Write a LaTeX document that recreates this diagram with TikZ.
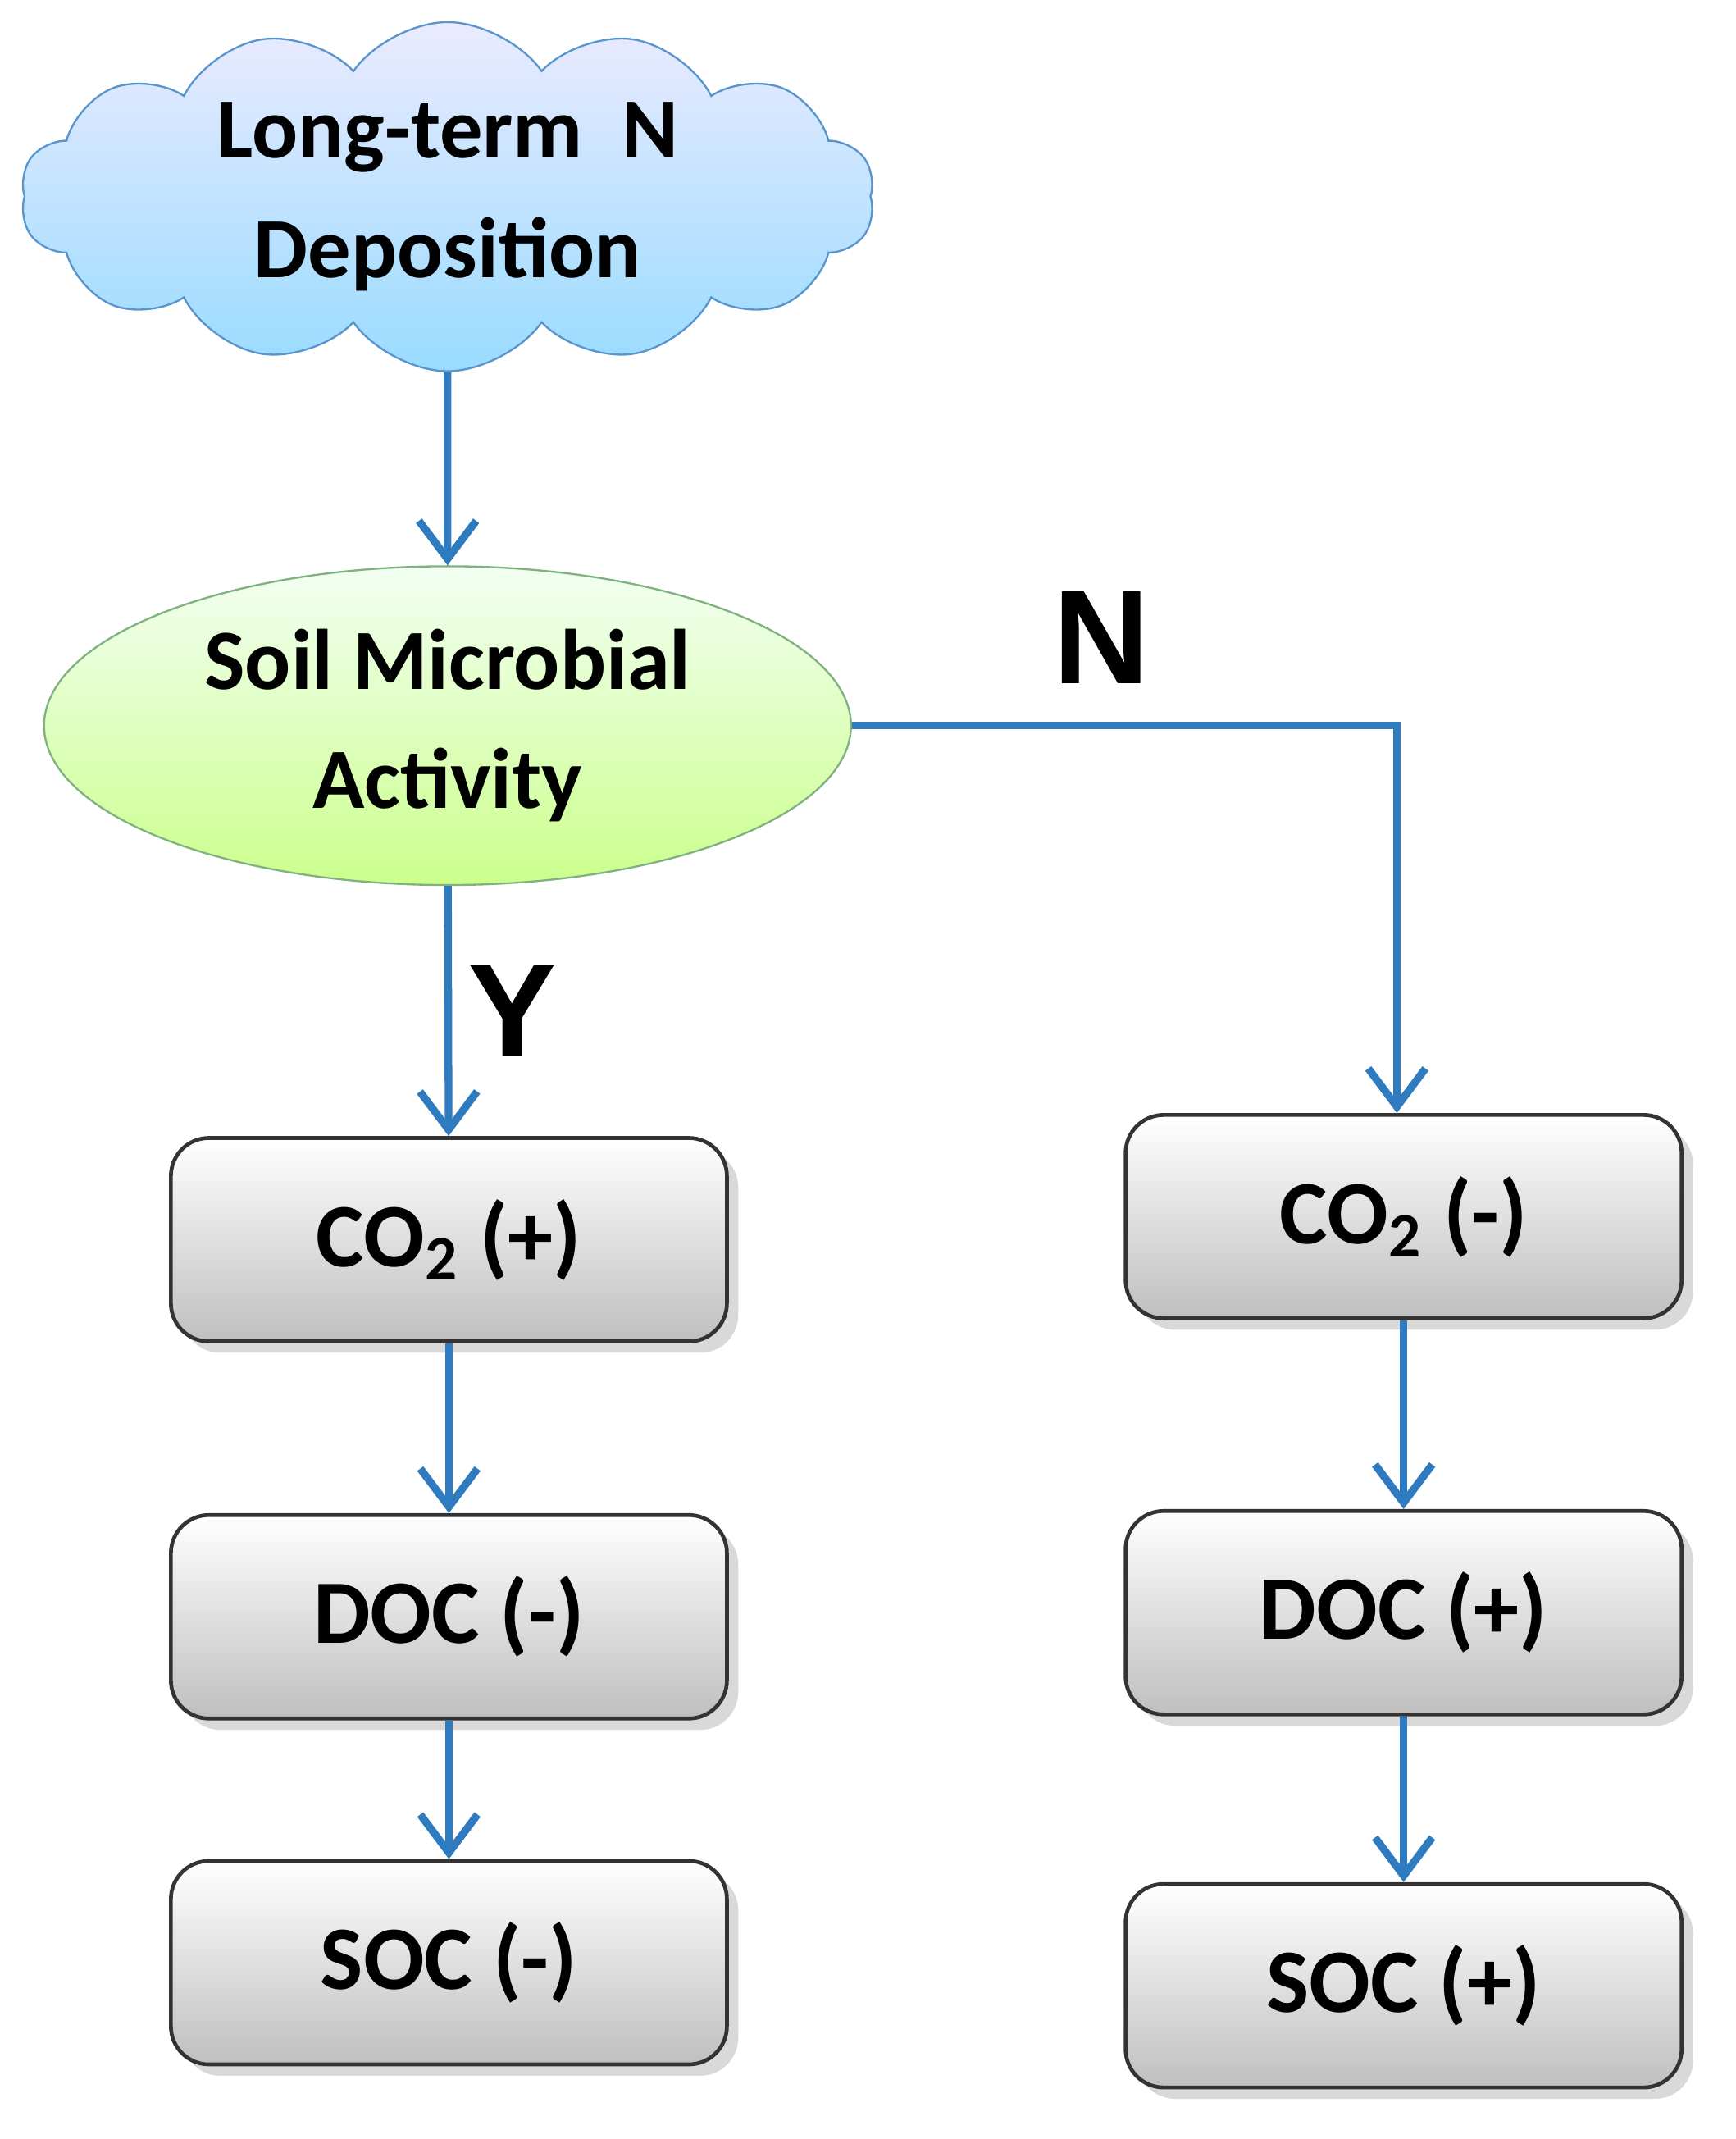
\documentclass[tikz,border=0pt]{standalone}
\usepackage{fontspec}
\setmainfont{Carlito}
\newfontfamily\labelfont{Liberation Sans}
\usetikzlibrary{shapes.geometric}
\usetikzlibrary{shapes.symbols}
\usetikzlibrary{positioning}
\usetikzlibrary{arrows.meta}
\usetikzlibrary{shadows}
\definecolor{flowblue}{HTML}{2E7BC0}
\tikzset{
  stepbox/.style={draw=black!80, thick, rectangle, rounded corners=8pt, minimum width=4.1cm, minimum height=1.5cm,
    top color=white, bottom color=black!25, drop shadow={opacity=0.3}, font=\fontsize{19}{23}\selectfont\bfseries},
  flow/.style={-{Straight Barb[length=8pt,width=12pt]}, draw=flowblue, line width=1.6pt},
  branch/.style={font=\labelfont\fontsize{28}{32}\selectfont\bfseries}
}
\begin{document}
\begin{tikzpicture}
            \useasboundingbox (0,0) rectangle (12.8,15.77);
            % source and activity
            \node[draw=flowblue!80, cloud, cloud puffs=14, cloud puff arc=110, aspect=2.9, minimum width=6.3cm, minimum height=2.05cm,
                  top color=blue!8, bottom color=blue!35!cyan!40, align=center, inner sep=0pt,
                  font=\fontsize{18}{25}\selectfont\bfseries] (dep) at (3.3,14.32) {Long-term\ \ N\\Deposition};
            \node[draw=green!40!black!50, ellipse, minimum width=5.95cm, minimum height=2.35cm, top color=green!5, bottom color=green!45!yellow!45,
                  align=center, inner sep=0pt, font=\fontsize{18}{25}\selectfont\bfseries] (act) at (3.3,10.42) {Soil Microbial\\Activity};
            % Y branch
            \node[stepbox] (co2y) at (3.31,6.63) {CO\textsubscript{2} (+)};
            \node[stepbox] (docy) at (3.31,3.85) {DOC (-)};
            \node[stepbox] (socy) at (3.31,1.30) {SOC (-)};
            % N branch
            \node[stepbox] (co2n) at (10.35,6.80) {CO\textsubscript{2} (-)};
            \node[stepbox] (docn) at (10.35,3.88) {DOC (+)};
            \node[stepbox] (socn) at (10.35,1.13) {SOC (+)};

            \node[branch] (lbly) at (3.78,8.32) {Y};
            \node[branch] (lbln) at (8.12,11.07) {N};

            \draw[flow] (dep) -- (act);
            \draw[flow] (act) -- (co2y);
            \draw[flow] (act.east) -| (co2n.north -| 10.3,0);
            \draw[flow] (co2y) -- (docy);
            \draw[flow] (docy) -- (socy);
            \draw[flow] (co2n) -- (docn);
            \draw[flow] (docn) -- (socn);
        \end{tikzpicture}
\end{document}
